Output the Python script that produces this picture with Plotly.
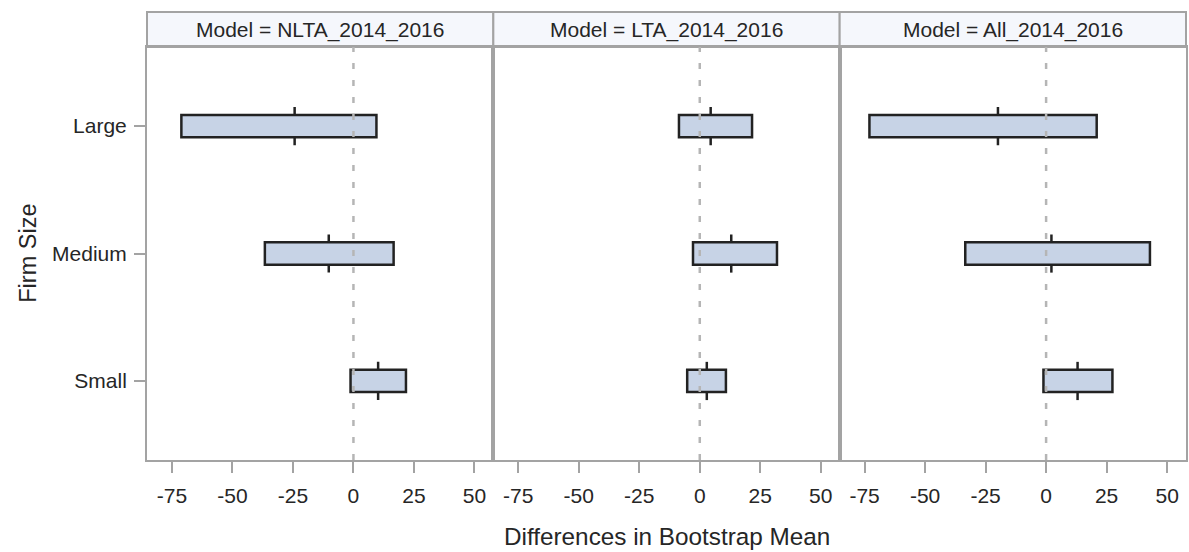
import plotly.graph_objects as go
from plotly.subplots import make_subplots

categories = ["Large", "Medium", "Small"]
models = ["NLTA_2014_2016", "LTA_2014_2016", "All_2014_2016"]

nlta_low = [-71.1, -36.6, -1.2]
nlta_high = [9.5, 16.6, 21.7]
nlta_mid = [-24.3, -10.2, 10.2]

lta_low = [-8.6, -2.8, -5.2]
lta_high = [21.6, 31.9, 10.8]
lta_mid = [4.5, 13.0, 2.9]

all_low = [-73.0, -33.4, -1.1]
all_high = [20.9, 42.9, 27.4]
all_mid = [-19.9, 2.2, 13.0]

x_ticks = [-75, -50, -25, 0, 25, 50]

series = [
    (nlta_low, nlta_high, nlta_mid),
    (lta_low, lta_high, lta_mid),
    (all_low, all_high, all_mid),
]

FONT = "Liberation Sans"
TXT = "#262626"
FRAME = "#a3a3a3"
BOX_FILL = "#c7d3e6"
BOX_LINE = "#222222"
BAR_W = 0.175
TICK_HALF = 0.15

W, H = 1189, 552
ML, MR, MT, MB = 147, 1, 47, 92
PH = H - MT - MB
STRIP = 35

fig = make_subplots(rows=1, cols=3, shared_yaxes=True, horizontal_spacing=0)

ypos = list(range(len(categories)))

for c, (lo, hi, md) in enumerate(series, start=1):
    fig.add_trace(go.Bar(
        y=ypos, x=[h - l for l, h in zip(lo, hi)], base=lo, orientation="h",
        width=BAR_W, marker=dict(color=BOX_FILL, line=dict(color=BOX_LINE, width=2.5)),
        hoverinfo="skip", showlegend=False), row=1, col=c)
    xs, ys = [], []
    for i, m in enumerate(md):
        xs += [m, m, None, m, m, None]
        ys += [i - TICK_HALF, i - BAR_W / 2, None, i + BAR_W / 2, i + TICK_HALF, None]
    fig.add_trace(go.Scatter(
        x=xs, y=ys, mode="lines", line=dict(color=BOX_LINE, width=2.5),
        hoverinfo="skip", showlegend=False), row=1, col=c)
    # reference line at zero
    fig.add_trace(go.Scatter(
        x=[0, 0], y=[2.62, -0.62], mode="lines",
        line=dict(color="#b5b5b5", width=2.5, dash="6px,11px"),
        hoverinfo="skip", showlegend=False), row=1, col=c)

for c in range(1, 4):
    fig.update_xaxes(
        range=[-85.3, 57.8], tickvals=x_ticks, ticktext=[str(v) for v in x_ticks],
        ticks="outside", ticklen=11, tickwidth=2, tickcolor=FRAME,
        showline=True, linecolor=FRAME, linewidth=2, mirror=True,
        showgrid=False, zeroline=False,
        tickfont=dict(family=FONT, size=21, color=TXT), ticklabelstandoff=5,
        row=1, col=c)
    fig.update_yaxes(
        range=[2.62, -0.62], tickvals=ypos, ticktext=categories,
        showline=True, linecolor=FRAME, linewidth=2, mirror=True,
        showgrid=False, zeroline=False,
        tickfont=dict(family=FONT, size=21, color=TXT),
        row=1, col=c)

fig.update_yaxes(ticks="outside", ticklen=11, tickwidth=2, tickcolor=FRAME,
                 ticklabelstandoff=3, row=1, col=1)
fig.update_yaxes(ticks="", showticklabels=False, row=1, col=2)
fig.update_yaxes(ticks="", showticklabels=False, row=1, col=3)

shapes = []
annotations = []
axnames = ["x", "x2", "x3"]
for c, name in enumerate(models):
    shapes.append(dict(type="rect", xref=f"{axnames[c]} domain", yref="paper",
                       x0=0, x1=1, y0=1, y1=1 + STRIP / PH,
                       fillcolor="#f5f7fc", line=dict(color=FRAME, width=2), layer="below"))
    annotations.append(dict(text=f"Model = {name}", xref=f"{axnames[c]} domain", yref="paper",
                            x=0.5, y=1 + STRIP / 2 / PH, xanchor="center", yanchor="middle",
                            showarrow=False, font=dict(family=FONT, size=21, color=TXT)))

annotations.append(dict(text="Differences in Bootstrap Mean", xref="paper", yref="paper",
                        x=0.5, y=(0 - 76) / PH, xanchor="center", yanchor="middle",
                        showarrow=False, font=dict(family=FONT, size=24.3, color=TXT)))
annotations.append(dict(text="Firm Size", xref="paper", yref="paper",
                        x=(27 - ML) / (W - ML - MR), y=0.5, xanchor="center", yanchor="middle",
                        textangle=-90, showarrow=False, font=dict(family=FONT, size=23.5, color=TXT)))

fig.update_layout(
    width=W, height=H, margin=dict(l=ML, r=MR, t=MT, b=MB),
    paper_bgcolor="white", plot_bgcolor="white",
    shapes=shapes, annotations=annotations, barmode="overlay",
    font=dict(family=FONT, color=TXT),
)

fig.write_html("out.html", config={"displayModeBar": False},
               post_script="document.body.style.margin='0';document.body.style.overflow='hidden';")
